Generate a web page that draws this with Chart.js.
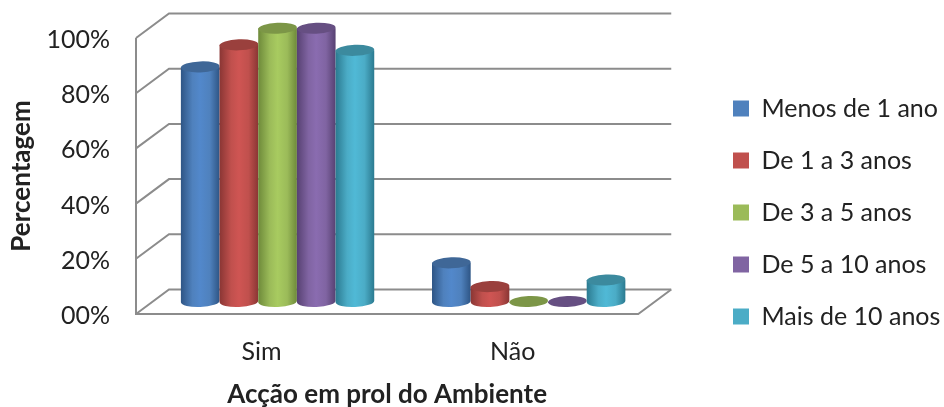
<!DOCTYPE html>
<html>
<head>
<meta charset="utf-8">
<style>
  html, body { margin: 0; padding: 0; background: #fff; }
  canvas { display: block; }
</style>
</head>
<body>
<canvas id="chart" width="944" height="407"></canvas>
<script src="https://cdn.jsdelivr.net/npm/chart.js@4"></script>
<script>
const categories = ['Sim', 'Não'];
const menos1 = [85, 14];
const de1a3 = [93, 5.4];
const de3a5 = [99, 0];
const de5a10 = [99, 0];
const mais10 = [91, 7.8];
const yTickLabels = ['00%', '20%', '40%', '60%', '80%', '100%'];

const colors = ['#4F81BD', '#C0504D', '#9BBB59', '#8064A2', '#4BACC6'];
const darks = ['#2E5585', '#8A3634', '#6E8A3A', '#574172', '#2B7A90'];
const lights = ['#5288CB', '#CF5553', '#A8CB60', '#8A6CB0', '#50B9D6'];
const tops = ['#3F6797', '#9A403D', '#7C9647', '#664F82', '#3C8A9E'];

// depth of the fake 3D box
const depthX = 33, depthY = 24.5;
// cylinders stand half way into the box
const shiftX = 16, shiftY = 12.5;
const ry = 5.5;

const box3d = {
    id: 'box3d',
    afterLayout(chart) {
        // legend sits further right and lower than the layout puts it
        chart.legend.left = 706;
        chart.legend.right = 944;
        const h = chart.legend.bottom - chart.legend.top;
        chart.legend.top = 212.5 - h / 2;
        chart.legend.bottom = 212.5 + h / 2;
    },
    beforeDatasetsDraw(chart) {
        const c = chart.ctx, a = chart.chartArea, y = chart.scales.y;
        c.save();
        c.strokeStyle = '#8C8C8C';
        c.lineWidth = 2;
        y.ticks.forEach(t => {
            const py = y.getPixelForValue(t.value);
            c.beginPath();
            c.moveTo(a.left, py);
            c.lineTo(a.left + depthX, py - depthY);
            c.lineTo(a.right + depthX, py - depthY);
            c.stroke();
        });
        c.beginPath();
        c.moveTo(a.left, a.top);
        c.lineTo(a.left, a.bottom);
        c.lineTo(a.right, a.bottom);
        c.lineTo(a.right + depthX, a.bottom - depthY);
        c.stroke();
        c.restore();
    },
    beforeDatasetDraw() {
        return false;
    },
    afterDatasetsDraw(chart) {
        const c = chart.ctx;
        chart.data.datasets.forEach((ds, i) => {
            chart.getDatasetMeta(i).data.forEach((bar, j) => {
                const p = bar.getProps(['x', 'y', 'base', 'width'], true);
                const x = p.x + shiftX, top = p.y - shiftY, base = p.base - shiftY, r = p.width / 2;
                if (ds.data[j] > 0) {
                    const g = c.createLinearGradient(x - r, 0, x + r, 0);
                    g.addColorStop(0, darks[i]);
                    g.addColorStop(0.3, colors[i]);
                    g.addColorStop(0.5, lights[i]);
                    g.addColorStop(0.75, colors[i]);
                    g.addColorStop(1, darks[i]);
                    c.fillStyle = g;
                    c.beginPath();
                    c.ellipse(x, base, r, ry, -0.04, 0, Math.PI);
                    c.lineTo(x - r, top);
                    c.lineTo(x + r, top);
                    c.closePath();
                    c.fill();
                }
                c.fillStyle = tops[i];
                c.beginPath();
                c.ellipse(x, top, r, ry, -0.04, 0, Math.PI * 2);
                c.fill();
            });
        });
    }
};

new Chart(document.getElementById('chart'), {
    type: 'bar',
    data: {
        labels: categories,
        datasets: [
            { label: 'Menos de 1 ano', data: menos1, backgroundColor: colors[0] },
            { label: 'De 1 a 3 anos', data: de1a3, backgroundColor: colors[1] },
            { label: 'De 3 a 5 anos', data: de3a5, backgroundColor: colors[2] },
            { label: 'De 5 a 10 anos', data: de5a10, backgroundColor: colors[3] },
            { label: 'Mais de 10 anos', data: mais10, backgroundColor: colors[4] }
        ]
    },
    options: {
        responsive: false,
        animation: false,
        layout: { padding: { top: 38, right: 93, bottom: 0, left: 0 } },
        datasets: { bar: { categoryPercentage: 0.77, barPercentage: 1 } },
        plugins: {
            tooltip: { enabled: false },
            legend: {
                position: 'right',
                labels: {
                    boxWidth: 16,
                    boxHeight: 16,
                    padding: 27,
                    color: '#222',
                    font: { family: 'Lato', size: 25 }
                }
            }
        },
        scales: {
            x: {
                grid: { display: false },
                border: { display: false },
                afterFit(s) { s.height = 93; },
                ticks: { color: '#222', padding: 15, font: { family: 'Lato', size: 25 } },
                title: {
                    display: true,
                    text: 'Acção em prol do Ambiente',
                    color: '#222',
                    font: { family: 'Lato', size: 26, weight: 'bold' },
                    padding: { top: 10, bottom: -3 }
                }
            },
            y: {
                min: 0,
                max: 100,
                grid: { display: false },
                border: { display: false },
                afterFit(s) { s.width = 136; },
                ticks: {
                    stepSize: 20,
                    color: '#222',
                    padding: 18,
                    labelOffset: 2,
                    font: { family: 'Lato', size: 25 },
                    callback: (v, i) => yTickLabels[i]
                },
                title: {
                    display: true,
                    text: 'Percentagem',
                    color: '#222',
                    font: { family: 'Lato', size: 26, weight: 'bold' },
                    padding: { top: 6, bottom: 8 }
                }
            }
        }
    },
    plugins: [box3d]
});
</script>
</body>
</html>
